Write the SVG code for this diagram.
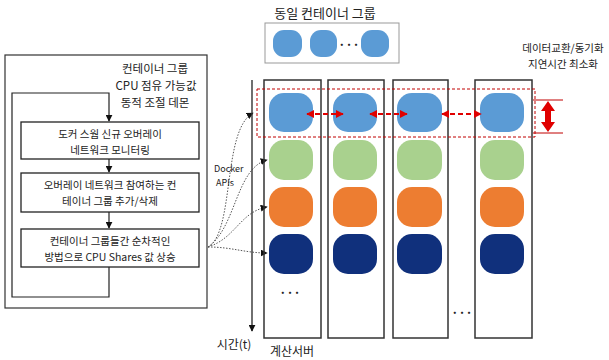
<svg xmlns="http://www.w3.org/2000/svg" width="609" height="360" viewBox="0 0 609 360">
<defs>
<style>
text{font-family:"Noto Sans CJK KR","Liberation Sans",sans-serif;fill:#222}
.box{fill:#fff;stroke:#222;stroke-width:1.3}
.col{fill:none;stroke:#333;stroke-width:1.5}
.ln{fill:none;stroke:#222;stroke-width:1.2}
.dot{fill:none;stroke:#555;stroke-width:1;stroke-dasharray:1.5 1.5}
.red{fill:none;stroke:#e00000;stroke-width:2;stroke-dasharray:5 3}
.blue{fill:#5b9bd5}
.green{fill:#a9d18e}
.orange{fill:#ed7d31}
.navy{fill:#10307c}
.bt{font-size:10.5px;text-anchor:middle}
</style>
<marker id="ah" viewBox="0 0 10 10" refX="9" refY="5" markerWidth="7" markerHeight="7" orient="auto" markerUnits="userSpaceOnUse"><path d="M0,0L10,5L0,10z" fill="#111"/></marker>
<marker id="rh" viewBox="0 0 10 10" refX="9" refY="5" markerWidth="8" markerHeight="8" orient="auto-start-reverse" markerUnits="userSpaceOnUse"><path d="M0,0L10,5L0,10z" fill="#e00000"/></marker>
</defs>

<g id="daemon">
<rect x="5" y="55" width="202" height="253" fill="#fff" stroke="#333" stroke-width="1.2"/>
<text x="155" y="73" font-size="11.5" text-anchor="middle">컨테이너 그룹</text>
<text x="156" y="90" font-size="11.5" text-anchor="middle">CPU 점유 가능값</text>
<text x="155" y="107" font-size="11.5" text-anchor="middle">동적 조절 데몬</text>
</g>

<g id="connectors">
<path class="ln" d="M109,267 V297 H12 V93 H109 V121" marker-end="url(#ah)"/>
<path class="ln" d="M109,159 V172" marker-end="url(#ah)"/>
<path class="ln" d="M109,212 V228" marker-end="url(#ah)"/>
<path class="dot" d="M208,247 C235,232 222,130 253,113" marker-end="url(#ah)"/>
<path class="dot" d="M208,247 C236,228 236,168 267,160" marker-end="url(#ah)"/>
<path class="dot" d="M208,247 C236,238 240,212 267,207" marker-end="url(#ah)"/>
<path class="dot" d="M208,247 C232,247 245,253 267,253" marker-end="url(#ah)"/>
<path d="M252,80 V331" fill="none" stroke="#333" stroke-width="1.4" marker-end="url(#ah)"/>
</g>

<g id="step1">
<rect class="box" x="21" y="122" width="178" height="37"/>
<text class="bt" x="110" y="138">도커 스웜 신규 오버레이</text>
<text class="bt" x="110" y="153.5">네트워크 모니터링</text>
</g>
<g id="step2">
<rect class="box" x="21" y="173" width="178" height="39"/>
<text class="bt" x="110" y="189">오버레이 네트워크 참여하는 컨</text>
<text class="bt" x="110" y="204.5">테이너 그룹 추가/삭제</text>
</g>
<g id="step3">
<rect class="box" x="21" y="229" width="178" height="38"/>
<text class="bt" x="110" y="245">컨테이너 그룹들간 순차적인</text>
<text class="bt" x="110" y="260.5">방법으로 CPU Shares 값 상승</text>
</g>

<g id="docker-apis">
<text x="214" y="172" font-size="9">Docker</text>
<text x="216" y="186" font-size="9">APIs</text>
</g>

<g id="legend">
<text x="325" y="18" font-size="13" text-anchor="middle">동일 컨테이너 그룹</text>
<rect x="265" y="23" width="134" height="40" fill="#fff" stroke="#999" stroke-width="1"/>
<rect class="blue" x="273" y="30" width="29" height="27" rx="11"/>
<rect class="blue" x="310" y="30" width="27" height="27" rx="11"/>
<text x="349" y="49" font-size="12" text-anchor="middle" font-weight="bold">···</text>
<rect class="blue" x="361" y="30" width="28" height="27" rx="11"/>
</g>

<g id="server1">
<rect class="col" x="264" y="80" width="57" height="258"/>
<rect class="blue" x="269" y="93" width="44" height="39" rx="15"/>
<rect class="green" x="269" y="140" width="44" height="40" rx="15"/>
<rect class="orange" x="269" y="187" width="44" height="40" rx="15"/>
<rect class="navy" x="269" y="234" width="44" height="40" rx="15"/>
<text x="290" y="297" font-size="12" text-anchor="middle" font-weight="bold">···</text>
</g>
<g id="server2">
<rect class="col" x="328" y="80" width="56" height="258"/>
<rect class="blue" x="333" y="93" width="44" height="39" rx="15"/>
<rect class="green" x="333" y="140" width="44" height="40" rx="15"/>
<rect class="orange" x="333" y="187" width="44" height="40" rx="15"/>
<rect class="navy" x="333" y="234" width="44" height="40" rx="15"/>
</g>
<g id="server3">
<rect class="col" x="393" y="80" width="55" height="258"/>
<rect class="blue" x="397" y="93" width="45" height="39" rx="15"/>
<rect class="green" x="397" y="140" width="45" height="40" rx="15"/>
<rect class="orange" x="397" y="187" width="45" height="40" rx="15"/>
<rect class="navy" x="397" y="234" width="45" height="40" rx="15"/>
</g>
<text x="462" y="317" font-size="12" text-anchor="middle" font-weight="bold">···</text>
<g id="server4">
<rect class="col" x="475" y="80" width="57" height="258"/>
<rect class="blue" x="480" y="93" width="44" height="39" rx="15"/>
<rect class="green" x="480" y="140" width="44" height="40" rx="15"/>
<rect class="orange" x="480" y="187" width="44" height="40" rx="15"/>
<rect class="navy" x="480" y="234" width="44" height="40" rx="15"/>
</g>

<g id="sync">
<rect x="257" y="89" width="278" height="48" fill="none" stroke="#c00000" stroke-width="1" stroke-dasharray="3 2"/>
<path class="red" d="M307,114 H343" marker-start="url(#rh)" marker-end="url(#rh)"/>
<path class="red" d="M370,114 H407" marker-start="url(#rh)" marker-end="url(#rh)"/>
<path class="red" d="M442,114 H481" marker-start="url(#rh)" marker-end="url(#rh)"/>
<path d="M533,100 H563 M533,133 H563" stroke="#c00000" stroke-width="1"/>
<path d="M548,101 L555,111 L551,111 L551,122 L555,122 L548,132 L541,122 L545,122 L545,111 L541,111 Z" fill="#e00000"/>
<text x="563" y="52" font-size="10.5" text-anchor="middle">데이터교환/동기화</text>
<text x="563" y="68" font-size="10.5" text-anchor="middle">지연시간 최소화</text>
</g>

<g id="labels">
<text x="234" y="349" font-size="12" text-anchor="middle">시간(t)</text>
<text x="292" y="356" font-size="12" text-anchor="middle">계산서버</text>
</g>
</svg>
